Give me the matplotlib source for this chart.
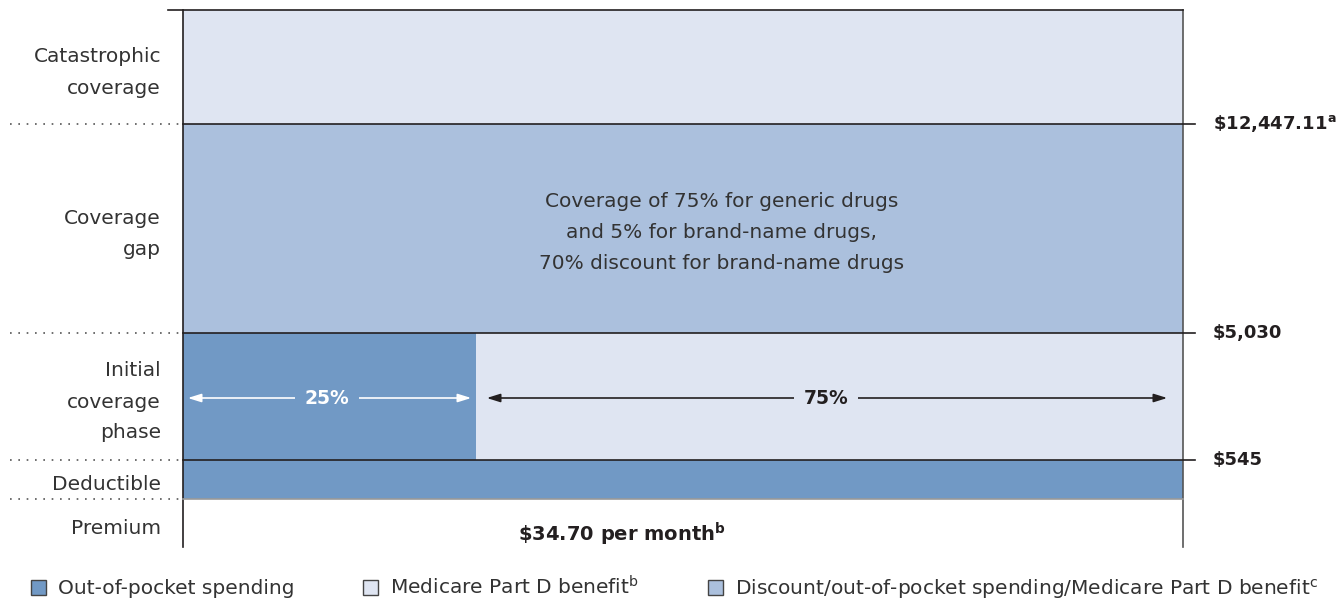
import matplotlib.pyplot as plt
from matplotlib.patches import Patch

plt.rcParams['font.family'] = ['DejaVu Sans']
plt.rcParams['mathtext.fontset'] = 'dejavusans'

# phases from bottom to top, with their schematic heights
phases = ['Premium', 'Deductible', 'Initial\ncoverage\nphase', 'Coverage\ngap', 'Catastrophic\ncoverage']
phase_heights = [48, 39, 127, 209, 114]
# threshold labels at the top of deductible, initial phase and gap
thresholds = [r'\$545', r'\$5,030', r'\$12,447.11$^\mathregular{a}$']
oop_share_drawn = 0.293
share_labels = ['25%', '75%']
gap_text = 'Coverage of 75% for generic drugs\nand 5% for brand-name drugs,\n70% discount for brand-name drugs'
premium_text = r'\$34.70 per month$^\mathregular{b}$'
legend_labels = ['Out-of-pocket spending', r'Medicare Part D benefit$^\mathregular{b}$',
                 r'Discount/out-of-pocket spending/Medicare Part D benefit$^\mathregular{c}$']

LIGHT = '#dfe5f2'
MID = '#abc0dd'
DARK = '#7199c5'
TXT = '#333333'
INK = '#231f20'
FS = 14.5
BFS = 13

W, H = 1341, 601
fig = plt.figure(figsize=(W / 100, H / 100), dpi=100)
ax = fig.add_axes([183 / W, (H - 547) / H, 1000 / W, 537 / H])
ax.set_xlim(0, 1)
total = sum(phase_heights)
ax.set_ylim(0, total)
ax.axis('off')

bounds = [0]
for h in phase_heights:
    bounds.append(bounds[-1] + h)

# filled blocks
ax.bar(0.5, phase_heights[1], bottom=bounds[1], width=1, color=DARK, linewidth=0)
ax.bar(oop_share_drawn / 2, phase_heights[2], bottom=bounds[2], width=oop_share_drawn, color=DARK, linewidth=0)
ax.bar((1 + oop_share_drawn) / 2, phase_heights[2], bottom=bounds[2], width=1 - oop_share_drawn,
       color=LIGHT, linewidth=0)
ax.bar(0.5, phase_heights[3], bottom=bounds[3], width=1, color=MID, linewidth=0)
ax.bar(0.5, phase_heights[4], bottom=bounds[4], width=1, color=LIGHT, linewidth=0)

# frame lines
ax.plot([0, 0], [0, total], color=INK, lw=1.2, clip_on=False)
ax.plot([1, 1], [0, total], color='#555555', lw=1.2, clip_on=False)
ax.plot([-0.015, 1], [total, total], color=INK, lw=1.2, clip_on=False)
ax.plot([0, 1], [bounds[1], bounds[1]], color='#999999', lw=1.2, clip_on=False)

# threshold lines and labels
for b, lab in zip(bounds[2:5], thresholds):
    ax.plot([0, 1.012], [b, b], color=INK, lw=1.2, clip_on=False)
    ax.text(1.03, b, lab, ha='left', va='center', fontsize=BFS, fontweight='bold', color=INK)

# dotted separators on the left
for b in bounds[1:5]:
    ax.plot([-0.173, 0], [b, b], color='#555555', lw=1.2, ls=(0, (1, 4)), clip_on=False)

# phase labels
for i, lab in enumerate(phases):
    ax.text(-0.022, (bounds[i] + bounds[i + 1]) / 2 - 5.5, lab, ha='right', va='center',
            fontsize=FS, color=TXT, linespacing=1.8)

# gap text
ax.text(0.539, (bounds[3] + bounds[4]) / 2 - 4, gap_text, ha='center', va='center',
        fontsize=FS, color=TXT, linespacing=1.8)

# arrows in the initial phase
ya = bounds[2] + 62
ax.annotate('', xy=(0.002, ya), xytext=(oop_share_drawn - 0.002, ya),
            arrowprops=dict(arrowstyle='<|-|>,head_length=0.8,head_width=0.25', color='white', lw=1.2))
ax.text(0.144, ya, share_labels[0], ha='center', va='center', fontsize=13.5, fontweight='bold',
        color='white', bbox=dict(boxstyle='square,pad=0.5', fc=DARK, ec='none'))
ax.annotate('', xy=(0.301, ya), xytext=(0.987, ya),
            arrowprops=dict(arrowstyle='<|-|>,head_length=0.8,head_width=0.25', color=INK, lw=1.2))
ax.text(0.643, ya, share_labels[1], ha='center', va='center', fontsize=13.5, fontweight='bold',
        color=INK, bbox=dict(boxstyle='square,pad=0.5', fc=LIGHT, ec='none'))

# premium text
ax.text(0.439, 13, premium_text, ha='center', va='center', fontsize=14, fontweight='bold', color=INK)

handles = [Patch(fc=DARK, ec='#444444', lw=1.0), Patch(fc=LIGHT, ec='#444444', lw=1.0),
           Patch(fc=MID, ec='#444444', lw=1.0)]
leg = fig.legend(handles, legend_labels, loc='center left', bbox_to_anchor=(31 / W, 1 - 588 / H),
                 ncol=3, frameon=False, fontsize=FS, handlelength=0.75, handleheight=0.75,
                 handletextpad=0.6, columnspacing=3.4, borderaxespad=0, borderpad=0)
for t in leg.get_texts():
    t.set_color(TXT)

fig.savefig('out.png', dpi=100)
